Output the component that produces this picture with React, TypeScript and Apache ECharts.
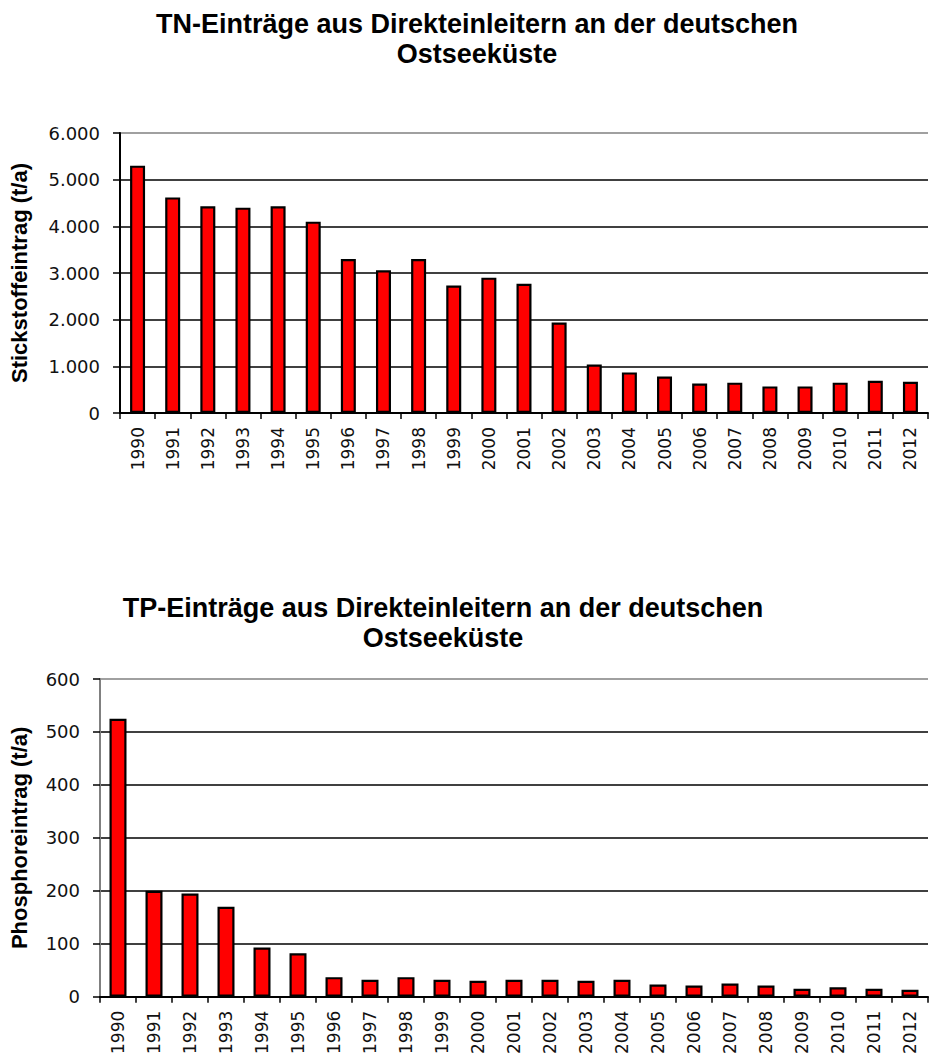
import React, { useEffect, useRef } from "react";
import * as echarts from "echarts";

const years = ["1990","1991","1992","1993","1994","1995","1996","1997","1998","1999","2000","2001","2002","2003","2004","2005","2006","2007","2008","2009","2010","2011","2012"];
const tnValues = [5300, 4620, 4430, 4400, 4430, 4100, 3300, 3060, 3300, 2730, 2900, 2770, 1940, 1040, 870, 780, 630, 650, 570, 570, 650, 690, 670];
const tpValues = [525, 200, 195, 170, 93, 82, 37, 32, 37, 32, 30, 32, 32, 30, 32, 23, 21, 25, 21, 15, 18, 15, 13];
const tnTitle = "TN-Einträge aus Direkteinleitern an der deutschen\nOstseeküste";
const tpTitle = "TP-Einträge aus Direkteinleitern an der deutschen\nOstseeküste";
const tnAxisName = "Stickstoffeintrag (t/a)";
const tpAxisName = "Phosphoreintrag (t/a)";

const fmt = (v: number) => String(v).replace(/\B(?=(\d{3})+(?!\d))/g, ".");

export default function App() {
  const ref = useRef<HTMLDivElement>(null);
  useEffect(() => {
    if (!ref.current) return;
    const chart = echarts.init(ref.current, undefined, { renderer: "svg" });
    const titleStyle = {
      fontFamily: "Liberation Sans, Arial, sans-serif",
      fontWeight: "bold" as const,
      fontSize: 27,
      lineHeight: 30,
      color: "#000",
    };
    const tickLabel = {
      fontFamily: "DejaVu Sans, sans-serif",
      fontSize: 18,
      color: "#111",
    };
    const nameStyle = {
      fontFamily: "Liberation Sans, Arial, sans-serif",
      fontWeight: "bold" as const,
      fontSize: 22,
      color: "#000",
    };
    const gridColors = ["#000", "#000", "#000", "#000", "#000", "#000", "#808080"];
    const barItem = { color: "#ff0000", borderColor: "#000", borderWidth: 2.2 };
    chart.setOption({
      animation: false,
      backgroundColor: "#fff",
      title: [
        { text: tnTitle, left: 472, top: 4, textAlign: "center", textStyle: titleStyle },
        { text: tpTitle, left: 438, top: 588, textAlign: "center", textStyle: titleStyle },
      ],
      grid: [
        { left: 120, top: 133, width: 808, height: 280 },
        { left: 100, top: 679, width: 828, height: 319 },
      ],
      xAxis: [
        {
          type: "category", gridIndex: 0, data: years,
          axisLine: { lineStyle: { color: "#000", width: 2 } },
          axisTick: { show: true, length: 6, lineStyle: { color: "#000", width: 1.5 } },
          axisLabel: { ...tickLabel, fontSize: 17, rotate: 90, margin: 14, interval: 0 },
        },
        {
          type: "category", gridIndex: 1, data: years,
          axisLine: { lineStyle: { color: "#000", width: 2 } },
          axisTick: { show: true, length: 6, lineStyle: { color: "#000", width: 1.5 } },
          axisLabel: { ...tickLabel, fontSize: 17, rotate: 90, margin: 14, interval: 0 },
        },
      ],
      yAxis: [
        {
          type: "value", gridIndex: 0, min: 0, max: 6000, interval: 1000,
          name: tnAxisName, nameLocation: "middle", nameGap: 90, nameRotate: 90, nameTextStyle: nameStyle,
          axisLine: { show: true, lineStyle: { color: "#000", width: 2 } },
          axisTick: { show: true, length: 7, lineStyle: { color: "#000", width: 1.5 } },
          axisLabel: { ...tickLabel, margin: 20, formatter: (v: number) => fmt(v) },
          splitLine: { show: true, lineStyle: { color: gridColors, width: 1.5 } },
        },
        {
          type: "value", gridIndex: 1, min: 0, max: 600, interval: 100,
          name: tpAxisName, nameLocation: "middle", nameGap: 70, nameRotate: 90, nameTextStyle: nameStyle,
          axisLine: { show: true, lineStyle: { color: "#808080", width: 2 } },
          axisTick: { show: true, length: 7, lineStyle: { color: "#000", width: 1.5 } },
          axisLabel: { ...tickLabel, margin: 20 },
          splitLine: { show: true, lineStyle: { color: gridColors, width: 1.5 } },
        },
      ],
      series: [
        { type: "bar", xAxisIndex: 0, yAxisIndex: 0, data: tnValues, barWidth: 15, itemStyle: barItem },
        { type: "bar", xAxisIndex: 1, yAxisIndex: 1, data: tpValues, barWidth: 17, itemStyle: barItem },
      ],
    });
    return () => chart.dispose();
  }, []);
  return (
    <div
      ref={ref}
      style={{ position: "fixed", left: 0, top: 0, width: 929, height: 1057, background: "#fff" }}
    />
  );
}
